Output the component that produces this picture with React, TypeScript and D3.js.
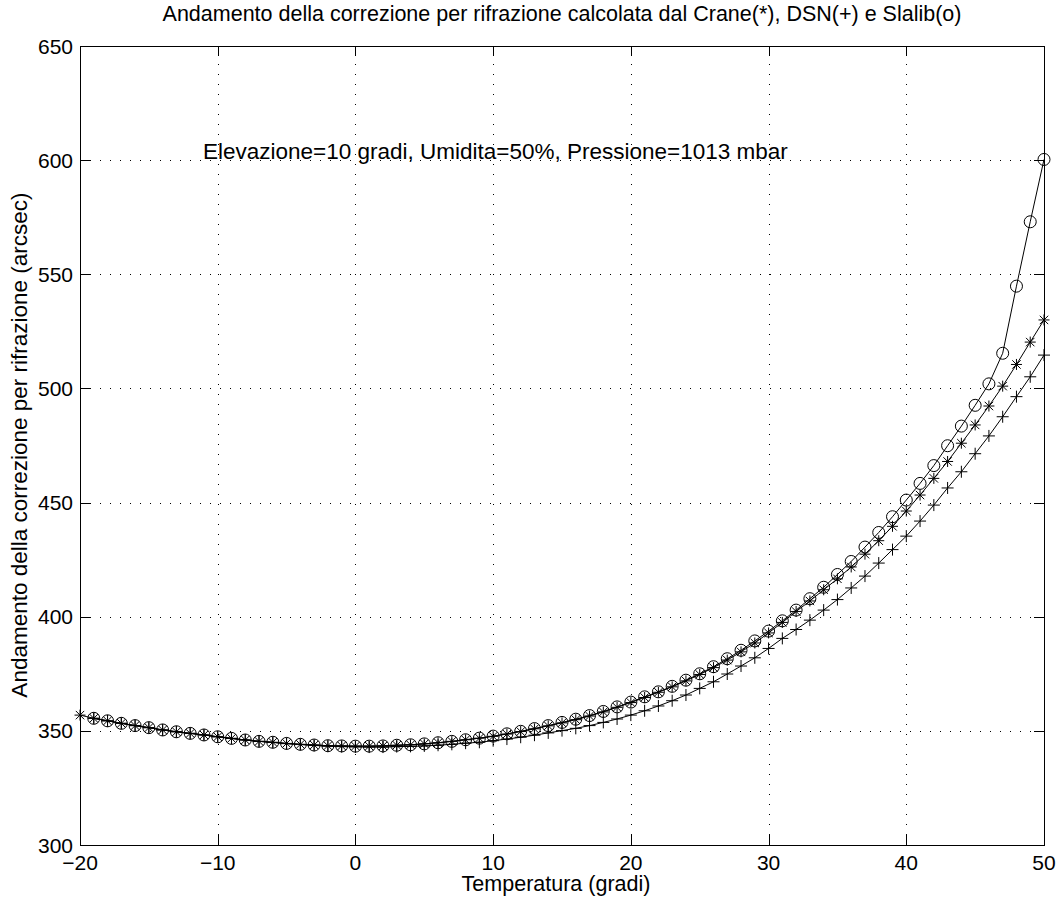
import React from "react";
import * as d3 from "d3";

const tempsCrane = [-20, -19, -18, -17, -16, -15, -14, -13, -12, -11, -10, -9, -8, -7, -6, -5, -4, -3, -2, -1, 0, 1, 2, 3, 4, 5, 6, 7, 8, 9, 10, 11, 12, 13, 14, 15, 16, 17, 18, 19, 20, 21, 22, 23, 24, 25, 26, 27, 28, 29, 30, 31, 32, 33, 34, 35, 36, 37, 38, 39, 40, 41, 42, 43, 44, 45, 46, 47, 48, 49, 50];
const tempsOther = tempsCrane.slice(1);

const crane = [356.9, 355.5, 354.4, 353.3, 352.3, 351.4, 350.4, 349.6, 348.9, 348.2, 347.4, 346.7, 346.0, 345.4, 345.0, 344.5, 344.1, 343.8, 343.5, 343.4, 343.3, 343.3, 343.4, 343.7, 343.9, 344.3, 344.8, 345.4, 346.1, 346.8, 347.6, 348.6, 349.7, 350.9, 352.2, 353.5, 354.9, 356.5, 358.3, 360.3, 362.4, 364.6, 366.9, 369.3, 371.9, 374.7, 377.7, 381.0, 384.6, 388.5, 392.9, 397.5, 402.3, 406.9, 411.8, 416.6, 421.8, 427.4, 433.3, 439.6, 446.3, 453.3, 460.6, 468.0, 476.0, 484.0, 492.3, 501.0, 510.5, 520.3, 530.0];

const dsn = [355.5, 354.4, 353.3, 352.3, 351.4, 350.4, 349.6, 348.9, 348.2, 347.4, 346.7, 346.0, 345.4, 344.9, 344.4, 344.0, 343.6, 343.3, 343.1, 343.0, 342.9, 342.9, 343.1, 343.2, 343.4, 343.7, 344.1, 344.6, 345.0, 345.7, 346.4, 347.2, 348.1, 349.1, 350.1, 351.1, 352.3, 353.7, 355.2, 356.9, 358.8, 360.9, 363.2, 365.7, 368.6, 371.5, 374.9, 378.4, 382.0, 386.1, 390.5, 394.4, 398.5, 402.9, 407.5, 412.6, 417.8, 423.5, 429.4, 435.3, 441.9, 448.9, 456.4, 463.5, 471.4, 479.2, 487.6, 496.4, 505.1, 514.6];

const slalib = [355.5, 354.4, 353.3, 352.3, 351.4, 350.4, 349.6, 348.9, 348.2, 347.4, 346.7, 346.0, 345.4, 345.0, 344.5, 344.1, 343.8, 343.5, 343.4, 343.3, 343.3, 343.4, 343.7, 343.9, 344.3, 344.8, 345.4, 346.1, 346.8, 347.7, 348.7, 349.8, 351.0, 352.3, 353.7, 355.1, 356.7, 358.5, 360.5, 362.6, 364.9, 367.1, 369.5, 372.2, 375.0, 378.1, 381.6, 385.3, 389.4, 393.7, 398.2, 402.9, 407.9, 412.9, 418.5, 424.2, 430.5, 436.9, 443.8, 451.1, 458.4, 466.2, 474.9, 483.5, 492.6, 502.0, 515.4, 544.8, 573.0, 600.3];

const xTicks = [-20, -10, 0, 10, 20, 30, 40, 50];
const yTicks = [300, 350, 400, 450, 500, 550, 600, 650];

const titleText = "Andamento della correzione per rifrazione calcolata dal Crane(*), DSN(+) e Slalib(o)";
const xLabelText = "Temperatura (gradi)";
const yLabelText = "Andamento della correzione per rifrazione (arcsec)";
const noteText = "Elevazione=10 gradi, Umidita=50%, Pressione=1013 mbar";

const W = 1062;
const H = 909;
const L = 80, R = 1044, T = 46, B = 845;
const FONT = "'Liberation Sans', Arial, Helvetica, sans-serif";

export default function App() {
  const x = d3.scaleLinear().domain([-20, 50]).range([L, R]);
  const y = d3.scaleLinear().domain([300, 650]).range([B, T]);
  const fmt = d3.format("d");
  const line = d3.line<[number, number]>().x((d) => x(d[0])).y((d) => y(d[1]));
  const cranePts: [number, number][] = tempsCrane.map((t, i) => [t, crane[i]]);
  const dsnPts: [number, number][] = tempsOther.map((t, i) => [t, dsn[i]]);
  const slaPts: [number, number][] = tempsOther.map((t, i) => [t, slalib[i]]);
  const tick = 10;
  const ms = 6;
  const as = 5.5;
  const ad = 4.2;

  return (
    <div style={{ position: "absolute", left: 0, top: 0 }}>
      <svg width={W} height={H} viewBox={`0 0 ${W} ${H}`} style={{ display: "block", background: "#fff" }}>
        <rect x={0} y={0} width={W} height={H} fill="#fff" />
        {/* grid */}
        <g stroke="#000" strokeWidth={1} strokeDasharray="1,9">
          {xTicks.slice(1, -1).map((t) => (
            <line key={"gx" + t} x1={Math.round(x(t)) + 0.5} x2={Math.round(x(t)) + 0.5} y1={B} y2={T} />
          ))}
          {yTicks.slice(1, -1).map((t) => (
            <line key={"gy" + t} x1={L} x2={R} y1={Math.round(y(t)) + 0.5} y2={Math.round(y(t)) + 0.5} />
          ))}
        </g>
        {/* ticks */}
        <g stroke="#000" strokeWidth={1}>
          {xTicks.map((t) => {
            const px = Math.round(x(t)) + 0.5;
            return (
              <g key={"tx" + t}>
                <line x1={px} x2={px} y1={B} y2={B - tick} />
                <line x1={px} x2={px} y1={T} y2={T + tick} />
              </g>
            );
          })}
          {yTicks.map((t) => {
            const py = Math.round(y(t)) + 0.5;
            return (
              <g key={"ty" + t}>
                <line x1={L} x2={L + tick} y1={py} y2={py} />
                <line x1={R} x2={R - tick} y1={py} y2={py} />
              </g>
            );
          })}
        </g>
        <rect x={L + 0.5} y={T + 0.5} width={R - L} height={B - T} fill="none" stroke="#000" strokeWidth={1} />
        {/* lines */}
        <g fill="none" stroke="#000" strokeWidth={1}>
          <path d={line(cranePts) || ""} />
          <path d={line(dsnPts) || ""} />
          <path d={line(slaPts) || ""} />
        </g>
        {/* markers */}
        <g stroke="#000" strokeWidth={1} fill="none">
          {slaPts.map((p, i) => (
            <circle key={"c" + i} cx={x(p[0])} cy={y(p[1])} r={ms} />
          ))}
          {dsnPts.map((p, i) => {
            const cx = x(p[0]), cy = y(p[1]);
            return (
              <path key={"p" + i} d={`M${cx - ms},${cy}H${cx + ms}M${cx},${cy - ms}V${cy + ms}`} />
            );
          })}
          {cranePts.map((p, i) => {
            const cx = x(p[0]), cy = y(p[1]);
            return (
              <path
                key={"a" + i}
                d={`M${cx - as},${cy}H${cx + as}M${cx},${cy - as}V${cy + as}M${cx - ad},${cy - ad}L${cx + ad},${cy + ad}M${cx - ad},${cy + ad}L${cx + ad},${cy - ad}`}
              />
            );
          })}
        </g>
        {/* tick labels */}
        <g fontFamily={FONT} fontSize={21} fill="#000">
          {xTicks.map((t) => (
            <text key={"lx" + t} x={x(t)} y={870} textAnchor="middle">
              {t < 0 ? "\u2212" + fmt(-t) : fmt(t)}
            </text>
          ))}
          {yTicks.map((t) => (
            <text key={"ly" + t} x={73} y={y(t) + 7.5} textAnchor="end">
              {fmt(t)}
            </text>
          ))}
        </g>
        <text x={(L + R) / 2 + 0} y={21} textAnchor="middle" fontFamily={FONT} fontSize={21.5}>
          {titleText}
        </text>
        <text x={556} y={891} textAnchor="middle" fontFamily={FONT} fontSize={21.5}>
          {xLabelText}
        </text>
        <text
          transform={`translate(27,${445}) rotate(-90)`}
          textAnchor="middle"
          fontFamily={FONT}
          fontSize={22.5}
        >
          {yLabelText}
        </text>
        <text x={x(-11.07)} y={y(603.5) + 7} fontFamily={FONT} fontSize={22.5}>
          {noteText}
        </text>
      </svg>
    </div>
  );
}
